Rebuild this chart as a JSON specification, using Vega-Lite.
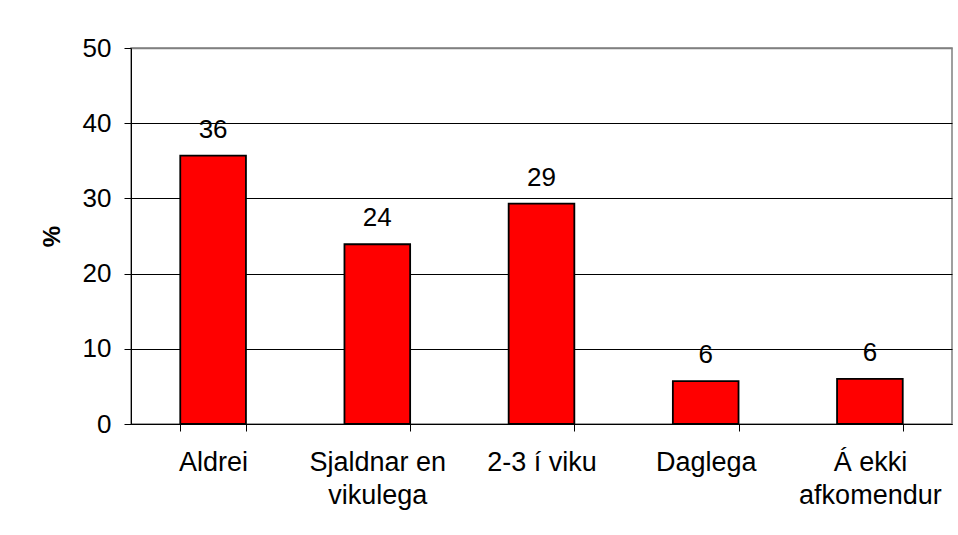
{
  "$schema": "https://vega.github.io/schema/vega-lite/v6.json",
  "width": 821,
  "height": 376,
  "autosize": "none",
  "padding": {"left": 131, "top": 48, "right": 6, "bottom": 111},
  "background": "white",
  "data": {
    "values": [
      {"category": "Aldrei", "percent": 35.7},
      {"category": "Sjaldnar en\nvikulega", "percent": 23.9},
      {"category": "2-3 í viku", "percent": 29.3},
      {"category": "Daglega", "percent": 5.7},
      {"category": "Á ekki\nafkomendur", "percent": 6.0}
    ]
  },
  "config": {
    "view": {"stroke": "#808080", "strokeWidth": 1.5},
    "font": "Liberation Sans",
    "axis": {
      "labelFont": "Liberation Sans",
      "titleFont": "Liberation Sans",
      "labelColor": "#000",
      "titleColor": "#000",
      "domainColor": "#000",
      "tickColor": "#000",
      "labelFontSize": 26,
      "tickSize": 7
    }
  },
  "encoding": {
    "x": {
      "field": "category",
      "type": "nominal",
      "sort": null,
      "scale": {"paddingInner": 0.6, "paddingOuter": 0.3},
      "axis": {
        "title": null,
        "labelAngle": 0,
        "tickBand": "extent",
        "labelFontSize": 27,
        "labelPadding": 18,
        "labelBaseline": "top",
        "labelLineHeight": 33,
        "labelExpr": "split(datum.label, '\\n')",
        "grid": false,
        "domainWidth": 1,
        "labelLimit": 300
      }
    },
    "y": {
      "field": "percent",
      "type": "quantitative",
      "scale": {"domain": [0, 50]},
      "axis": {
        "title": "%",
        "titleFontSize": 24,
        "titleFontWeight": "bold",
        "titlePadding": 18,
        "values": [0, 10, 20, 30, 40, 50],
        "labelPadding": 13,
        "grid": true,
        "gridColor": {"condition": {"test": "datum.value == 50", "value": "#808080"}, "value": "#000"},
        "gridWidth": {"condition": {"test": "datum.value == 50", "value": 1.5}, "value": 1},
        "gridOpacity": 1
      }
    }
  },
  "layer": [
    {
      "mark": {"type": "bar", "color": "#ff0000", "stroke": "#000", "strokeWidth": 1.8}
    },
    {
      "mark": {"type": "text", "fontSize": 26, "baseline": "alphabetic", "dy": -18, "color": "#000"},
      "encoding": {
        "text": {"field": "percent", "type": "quantitative", "format": ".0f"}
      }
    }
  ]
}
